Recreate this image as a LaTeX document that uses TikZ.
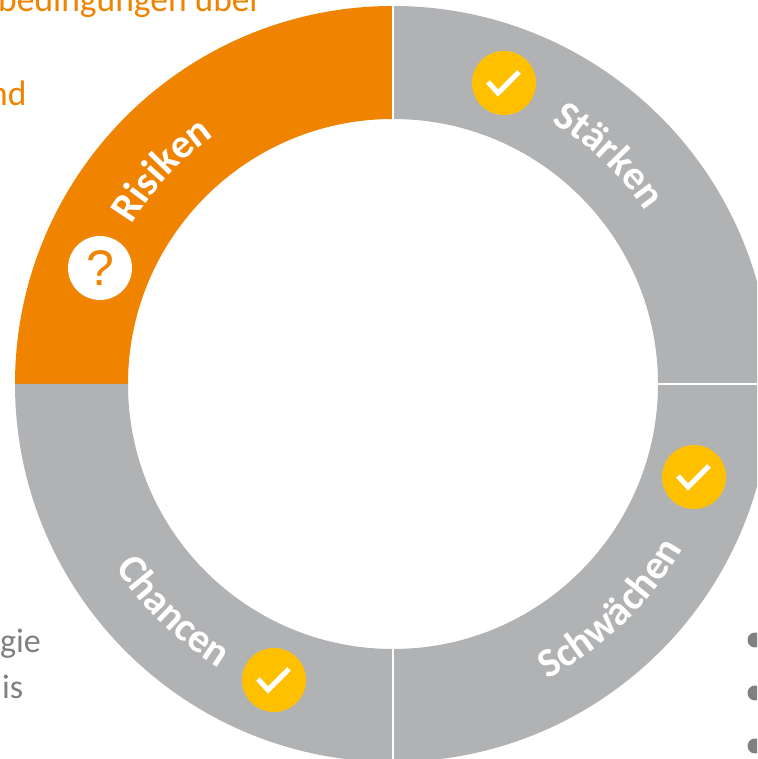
\documentclass[tikz,border=0pt]{standalone}
\usepackage{fontspec}
\setmainfont{Carlito}
\usetikzlibrary{decorations.text,calc}
\definecolor{ringgray}{HTML}{B1B2B4}
\definecolor{ringorange}{HTML}{F08300}
\definecolor{badge}{HTML}{FFC000}
\definecolor{bodygray}{HTML}{808080}
\tikzset{
  x=1pt,y=1pt,
  badgedot/.style={circle,fill=badge,minimum size=64pt,inner sep=0pt},
  askdot/.style={circle,fill=white,minimum size=64pt,inner sep=0pt,text=ringorange,font=\fontspec{Liberation Sans}\fontsize{50}{50}\selectfont},
  tick/.style={draw=white,line width=5pt,miter limit=4},
  orangetext/.style={text=ringorange,font=\fontsize{35.5}{36}\selectfont,inner sep=0pt,anchor=base west},
  graytext/.style={text=bodygray,font=\fontsize{34}{34}\selectfont,inner sep=0pt,anchor=base west},
  ringlabel/.style={decoration={text along path,text align=center,
     text={|\fontsize{41}{41}\selectfont\bfseries\color{white}|#1}},decorate},
}
\newcommand{\ringsector}[3]{%
  \fill[#1] ($(393,375)+(#2:378)$) arc[start angle=#2,end angle=#3,radius=378]
     -- ($(393,375)+(#3:265)$) arc[start angle=#3,end angle=#2,radius=265] -- cycle;}
\begin{document}
\begin{tikzpicture}
\useasboundingbox (0,0) rectangle (757,759);
\clip (0,0) rectangle (757,759);
\fill[white] (0,0) rectangle (757,759);
\coordinate (c) at (393,375);
% ring sectors
\ringsector{ringorange}{90}{180}
\ringsector{ringgray}{0}{90}
\ringsector{ringgray}{270}{360}
\ringsector{ringgray}{180}{270}
% separators
\draw[white,line width=1.2pt] ($(c)+(90:265)$) -- ($(c)+(90:380)$);
\draw[white,line width=1.2pt] ($(c)+(0:265)$) -- ($(c)+(0:380)$);
\draw[white,line width=1.2pt] ($(c)+(270:265)$) -- ($(c)+(270:380)$);
% ring labels
\path[ringlabel={Risiken}] ($(c)+(167.2:306)$) arc[start angle=167.2,end angle=107.2,radius=306];
\path[ringlabel={Stärken}] ($(c)+(76.6:306)$) arc[start angle=76.6,end angle=16.6,radius=306];
\path[ringlabel={Schwächen}] ($(c)+(-81:333)$) arc[start angle=-81,end angle=-11,radius=333];
\path[ringlabel={Chancen}] ($(c)+(-164:333)$) arc[start angle=-164,end angle=-104,radius=333];
% badges
\node[badgedot] (b1) at (504,676) {};
\node[badgedot] (b2) at (694,282) {};
\node[badgedot] (b3) at (274,79) {};
\node[askdot] (ask) at (100,491) {?};
\draw[tick] ($(b1)+(-16,1)$) -- ($(b1)+(-6,-10)$) -- ($(b1)+(15,11)$);
\draw[tick] ($(b2)+(-16,1)$) -- ($(b2)+(-6,-10)$) -- ($(b2)+(15,11)$);
\draw[tick] ($(b3)+(-16,1)$) -- ($(b3)+(-6,-10)$) -- ($(b3)+(15,11)$);
% clipped text
\node[orangetext] (t1) at (-2,747) {bedingungen über};
\node[orangetext] (t2) at (-11,653) {nd};
\node[graytext] (t3) at (0,106) {gie};
\node[graytext] (t4) at (2,60) {is};
% bullets
\fill[bodygray] (755,119) circle[radius=7.5];
\fill[bodygray] (755,66) circle[radius=7.5];
\fill[bodygray] (755,13) circle[radius=7.5];
\end{tikzpicture}
\end{document}
